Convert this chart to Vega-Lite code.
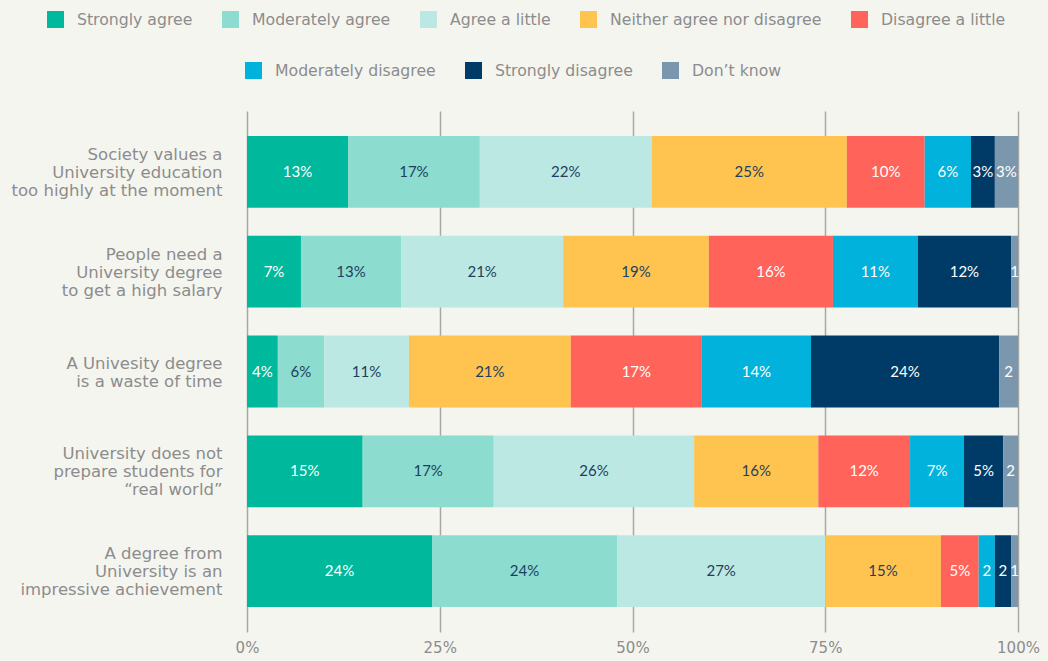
{
  "$schema": "https://vega.github.io/schema/vega-lite/v6.json",
  "width": 771,
  "height": 521,
  "autosize": {"type": "none"},
  "padding": {"left": 247, "top": 111, "right": 30, "bottom": 29},
  "background": "#f5f5f0",
  "config": {"view": {"stroke": null}, "font": "DejaVu Sans"},
  "data": {
    "values": [
      {"q": "Society values a|University education|too highly at the moment", "c": "Strongly agree", "o": 1, "v": 13.1},
      {"q": "Society values a|University education|too highly at the moment", "c": "Moderately agree", "o": 2, "v": 17.1},
      {"q": "Society values a|University education|too highly at the moment", "c": "Agree a little", "o": 3, "v": 22.3},
      {"q": "Society values a|University education|too highly at the moment", "c": "Neither agree nor disagree", "o": 4, "v": 25.3},
      {"q": "Society values a|University education|too highly at the moment", "c": "Disagree a little", "o": 5, "v": 10.1},
      {"q": "Society values a|University education|too highly at the moment", "c": "Moderately disagree", "o": 6, "v": 6.0},
      {"q": "Society values a|University education|too highly at the moment", "c": "Strongly disagree", "o": 7, "v": 3.1},
      {"q": "Society values a|University education|too highly at the moment", "c": "Don’t know", "o": 8, "v": 3.0},
      {"q": "People need a|University degree|to get a high salary", "c": "Strongly agree", "o": 1, "v": 7.0},
      {"q": "People need a|University degree|to get a high salary", "c": "Moderately agree", "o": 2, "v": 13.0},
      {"q": "People need a|University degree|to get a high salary", "c": "Agree a little", "o": 3, "v": 21.0},
      {"q": "People need a|University degree|to get a high salary", "c": "Neither agree nor disagree", "o": 4, "v": 18.9},
      {"q": "People need a|University degree|to get a high salary", "c": "Disagree a little", "o": 5, "v": 16.1},
      {"q": "People need a|University degree|to get a high salary", "c": "Moderately disagree", "o": 6, "v": 11.0},
      {"q": "People need a|University degree|to get a high salary", "c": "Strongly disagree", "o": 7, "v": 12.1},
      {"q": "People need a|University degree|to get a high salary", "c": "Don’t know", "o": 8, "v": 0.9},
      {"q": "A Univesity degree|is a waste of time", "c": "Strongly agree", "o": 1, "v": 4.0},
      {"q": "A Univesity degree|is a waste of time", "c": "Moderately agree", "o": 2, "v": 6.0},
      {"q": "A Univesity degree|is a waste of time", "c": "Agree a little", "o": 3, "v": 11.0},
      {"q": "A Univesity degree|is a waste of time", "c": "Neither agree nor disagree", "o": 4, "v": 21.0},
      {"q": "A Univesity degree|is a waste of time", "c": "Disagree a little", "o": 5, "v": 17.0},
      {"q": "A Univesity degree|is a waste of time", "c": "Moderately disagree", "o": 6, "v": 14.15},
      {"q": "A Univesity degree|is a waste of time", "c": "Strongly disagree", "o": 7, "v": 24.4},
      {"q": "A Univesity degree|is a waste of time", "c": "Don’t know", "o": 8, "v": 2.45},
      {"q": "University does not|prepare students for|“real world”", "c": "Strongly agree", "o": 1, "v": 15.0},
      {"q": "University does not|prepare students for|“real world”", "c": "Moderately agree", "o": 2, "v": 17.0},
      {"q": "University does not|prepare students for|“real world”", "c": "Agree a little", "o": 3, "v": 26.0},
      {"q": "University does not|prepare students for|“real world”", "c": "Neither agree nor disagree", "o": 4, "v": 16.1},
      {"q": "University does not|prepare students for|“real world”", "c": "Disagree a little", "o": 5, "v": 11.9},
      {"q": "University does not|prepare students for|“real world”", "c": "Moderately disagree", "o": 6, "v": 7.0},
      {"q": "University does not|prepare students for|“real world”", "c": "Strongly disagree", "o": 7, "v": 5.1},
      {"q": "University does not|prepare students for|“real world”", "c": "Don’t know", "o": 8, "v": 1.9},
      {"q": "A degree from|University is an|impressive achievement", "c": "Strongly agree", "o": 1, "v": 24.0},
      {"q": "A degree from|University is an|impressive achievement", "c": "Moderately agree", "o": 2, "v": 24.0},
      {"q": "A degree from|University is an|impressive achievement", "c": "Agree a little", "o": 3, "v": 27.0},
      {"q": "A degree from|University is an|impressive achievement", "c": "Neither agree nor disagree", "o": 4, "v": 15.0},
      {"q": "A degree from|University is an|impressive achievement", "c": "Disagree a little", "o": 5, "v": 4.9},
      {"q": "A degree from|University is an|impressive achievement", "c": "Moderately disagree", "o": 6, "v": 2.1},
      {"q": "A degree from|University is an|impressive achievement", "c": "Strongly disagree", "o": 7, "v": 2.1},
      {"q": "A degree from|University is an|impressive achievement", "c": "Don’t know", "o": 8, "v": 0.9}
    ]
  },
  "transform": [
    {"stack": "v", "groupby": ["q"], "sort": [{"field": "o", "order": "ascending"}], "as": ["x0", "x1"]},
    {"calculate": "(datum.x0 + datum.x1) / 2", "as": "mid"},
    {"calculate": "round(datum.v) >= 3 ? format(datum.v, '.0f') + '%' : format(datum.v, '.0f')", "as": "label"}
  ],
  "encoding": {
    "y": {
      "field": "q",
      "type": "nominal",
      "sort": [
        "Society values a|University education|too highly at the moment",
        "People need a|University degree|to get a high salary",
        "A Univesity degree|is a waste of time",
        "University does not|prepare students for|“real world”",
        "A degree from|University is an|impressive achievement"
      ],
      "scale": {"paddingInner": 0.28, "paddingOuter": 0.25},
      "axis": {
        "title": null,
        "domain": false,
        "ticks": false,
        "grid": false,
        "labelPadding": 25,
        "labelFont": "DejaVu Sans",
        "labelFontSize": 16.5,
        "labelColor": "#8c8c8c",
        "labelLineHeight": 18,
        "labelLimit": 400,
        "labelOffset": {"condition": {"test": "datum.label == 'A Univesity degree|is a waste of time'", "value": -8}, "value": -17},
        "labelExpr": "split(datum.label, '|')"
      }
    }
  },
  "layer": [
    {
      "transform": [{"filter": "datum.o <= 5"}],
      "mark": {"type": "bar"},
      "encoding": {
        "x": {
          "field": "x0",
          "type": "quantitative",
          "scale": {"domain": [0, 100]},
          "axis": {"title": null, "domain": false, "ticks": false, "grid": true, "gridColor": "#a8a8a8", "gridWidth": 1.5, "values": [0, 25, 50, 75, 100], "labelExpr": "datum.value + '%'", "labelFont": "DejaVu Sans", "labelFontSize": 15, "labelColor": "#8c8c8c", "labelPadding": 8, "labelFlush": false}
        },
        "x2": {"field": "x1"},
        "color": {
          "field": "c",
          "type": "nominal",
          "scale": {
            "domain": ["Strongly agree", "Moderately agree", "Agree a little", "Neither agree nor disagree", "Disagree a little"],
            "range": ["#00b89c", "#8cdccf", "#bce8e3", "#ffc44f", "#ff6359"]
          },
          "legend": {"title": null, "orient": "none", "legendX": -200, "legendY": -100, "direction": "horizontal", "symbolType": "square", "symbolSize": 289, "symbolStrokeWidth": 0, "symbolOpacity": 1, "labelFont": "DejaVu Sans", "labelFontSize": 15.7, "labelColor": "#8c8c8c", "labelOffset": 13, "labelLimit": 400, "columnPadding": 29}
        }
      }
    },
    {
      "transform": [{"filter": "datum.o > 5"}],
      "mark": {"type": "bar"},
      "encoding": {
        "x": {
          "field": "x0",
          "type": "quantitative",
          "scale": {"domain": [0, 100]},
          "axis": {"title": null, "domain": false, "ticks": false, "grid": true, "gridColor": "#a8a8a8", "gridWidth": 1.5, "values": [0, 25, 50, 75, 100], "labelExpr": "datum.value + '%'", "labelFont": "DejaVu Sans", "labelFontSize": 15, "labelColor": "#8c8c8c", "labelPadding": 8, "labelFlush": false}
        },
        "x2": {"field": "x1"},
        "color": {
          "field": "c",
          "type": "nominal",
          "scale": {
            "domain": ["Moderately disagree", "Strongly disagree", "Don’t know"],
            "range": ["#00b2dc", "#003a66", "#7b97ad"]
          },
          "legend": {"title": null, "orient": "none", "legendX": -2, "legendY": -49, "direction": "horizontal", "symbolType": "square", "symbolSize": 289, "symbolStrokeWidth": 0, "symbolOpacity": 1, "labelFont": "DejaVu Sans", "labelFontSize": 15.7, "labelColor": "#8c8c8c", "labelOffset": 13, "labelLimit": 400, "columnPadding": 29}
        }
      }
    },
    {
      "mark": {"type": "text", "font": "Lato", "fontSize": 15, "align": "center", "baseline": "middle"},
      "encoding": {
        "x": {
          "field": "mid",
          "type": "quantitative",
          "scale": {"domain": [0, 100]},
          "axis": {"title": null, "domain": false, "ticks": false, "grid": true, "gridColor": "#a8a8a8", "gridWidth": 1.5, "values": [0, 25, 50, 75, 100], "labelExpr": "datum.value + '%'", "labelFont": "DejaVu Sans", "labelFontSize": 15, "labelColor": "#8c8c8c", "labelPadding": 8, "labelFlush": false}
        },
        "text": {"field": "label"},
        "color": {"condition": {"test": "datum.o >= 2 && datum.o <= 4", "value": "#1e3f5f"}, "value": "#ffffff"}
      }
    }
  ],
  "resolve": {"scale": {"color": "independent"}}
}
